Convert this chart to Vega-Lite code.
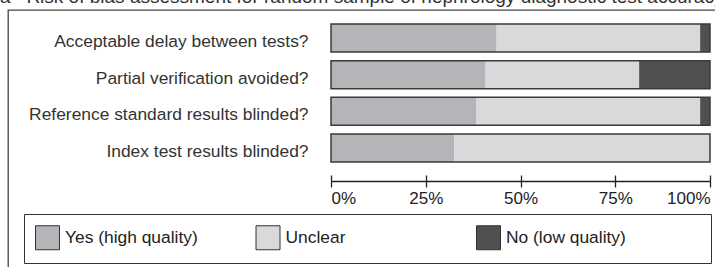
{
  "$schema": "https://vega.github.io/schema/vega-lite/v6.json",
  "autosize": "none",
  "width": 709,
  "height": 259,
  "padding": {"left": 8, "top": 10, "right": -2, "bottom": -2},
  "background": "white",
  "title": {
    "text": "a\u00a0\u00a0\u00a0Risk of bias assessment for random sample of nephrology diagnostic test accuracy studies",
    "anchor": "start",
    "frame": "group",
    "dx": -8,
    "offset": -12,
    "baseline": "alphabetic",
    "font": "Liberation Sans",
    "fontSize": 19,
    "fontWeight": "normal",
    "color": "#333333"
  },
  "data": {
    "values": [
      {"question": "Acceptable delay between tests?", "answer": "Yes (high quality)", "pct": 43.7},
      {"question": "Acceptable delay between tests?", "answer": "Unclear", "pct": 53.7},
      {"question": "Acceptable delay between tests?", "answer": "No (low quality)", "pct": 2.6},
      {"question": "Partial verification avoided?", "answer": "Yes (high quality)", "pct": 40.8},
      {"question": "Partial verification avoided?", "answer": "Unclear", "pct": 40.5},
      {"question": "Partial verification avoided?", "answer": "No (low quality)", "pct": 18.7},
      {"question": "Reference standard results blinded?", "answer": "Yes (high quality)", "pct": 38.4},
      {"question": "Reference standard results blinded?", "answer": "Unclear", "pct": 59.0},
      {"question": "Reference standard results blinded?", "answer": "No (low quality)", "pct": 2.6},
      {"question": "Index test results blinded?", "answer": "Yes (high quality)", "pct": 32.5},
      {"question": "Index test results blinded?", "answer": "Unclear", "pct": 67.5},
      {"question": "Index test results blinded?", "answer": "No (low quality)", "pct": 0}
    ]
  },
  "encoding": {
    "y": {
      "field": "question",
      "type": "nominal",
      "sort": ["Acceptable delay between tests?", "Partial verification avoided?", "Reference standard results blinded?", "Index test results blinded?"],
      "scale": {"range": [9.7, 156.3], "paddingInner": 0.236, "paddingOuter": 0.118},
      "axis": {
        "title": null,
        "orient": "left",
        "offset": -323,
        "domain": false,
        "ticks": false,
        "tickSize": 0,
        "labelPadding": 23,
        "labelOffset": 4,
        "labelFont": "Liberation Sans",
        "labelFontSize": 17.4,
        "labelColor": "#333333",
        "labelLimit": 400
      }
    }
  },
  "layer": [
    {
      "mark": {"type": "bar"},
      "encoding": {
        "x": {
          "field": "pct",
          "type": "quantitative",
          "stack": "zero",
          "scale": {"domain": [0, 100], "range": [323, 702], "nice": false},
          "axis": {
            "title": null,
            "orient": "bottom",
            "offset": -88,
            "values": [0, 25, 50, 75, 100],
            "labelExpr": "datum.value + '%'",
            "labelFlush": true,
            "grid": false,
            "domain": true,
            "domainColor": "#222222",
            "domainWidth": 1.3,
            "ticks": true,
            "tickSize": 6,
            "tickColor": "#222222",
            "tickWidth": 1.3,
            "labelPadding": 3,
            "labelFont": "Liberation Sans",
            "labelFontSize": 17,
            "labelColor": "#222222"
          }
        },
        "order": {"field": "answer", "sort": "descending"},
        "color": {
          "field": "answer",
          "type": "nominal",
          "sort": ["Yes (high quality)", "Unclear", "No (low quality)"],
          "scale": {
            "domain": ["Yes (high quality)", "Unclear", "No (low quality)"],
            "range": ["#b4b5b8", "#d8d9db", "#505052"]
          },
          "legend": {
            "orient": "none",
            "legendX": 16,
            "legendY": 204,
            "direction": "horizontal",
            "columns": 3,
            "gridAlign": "all",
            "columnPadding": 55.5,
            "symbolType": "square",
            "symbolSize": 576,
            "symbolStrokeColor": "#333333",
            "symbolStrokeWidth": 1,
            "symbolOpacity": 1,
            "labelOffset": 5,
            "labelFont": "Liberation Sans",
            "labelFontSize": 17.4,
            "labelColor": "#222222",
            "labelLimit": 300,
            "padding": 11,
            "strokeColor": "#333333",
            "title": "\u00a0",
            "titleOrient": "right",
            "titlePadding": 74,
            "titleFontSize": 17
          }
        }
      }
    },
    {
      "mark": {"type": "bar", "fillOpacity": 0, "stroke": "#3a3a3a", "strokeWidth": 1.5},
      "encoding": {
        "x": {
          "aggregate": "sum",
          "field": "pct",
          "type": "quantitative",
          "scale": {"domain": [0, 100], "range": [323, 702], "nice": false},
          "axis": {
            "title": null,
            "orient": "bottom",
            "offset": -88,
            "values": [0, 25, 50, 75, 100],
            "labels": false,
            "grid": false,
            "domain": false,
            "ticks": true,
            "tickSize": -6,
            "tickColor": "#222222",
            "tickWidth": 1.3
          }
        }
      }
    }
  ],
  "resolve": {"axis": {"x": "independent"}},
  "config": {
    "view": {"stroke": "#444444", "strokeWidth": 1.3},
    "axis": {"grid": false}
  }
}
